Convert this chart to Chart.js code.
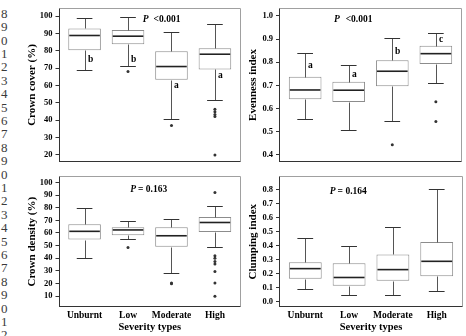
<!DOCTYPE html>
<html><head><meta charset="utf-8">
<script src="https://cdn.jsdelivr.net/npm/chart.js@4.4.1/dist/chart.umd.min.js"></script>
<style>
html,body{margin:0;padding:0;background:#fff;}
body{width:466px;height:336px;position:relative;overflow:hidden;}
canvas{position:absolute;}
.ln{position:absolute;left:1px;width:10px;font:13px 'Liberation Serif',serif;color:#3a3a3a;line-height:13px;}
</style></head><body>
<div id="nums"></div>
<canvas id="c1" width="246" height="170" style="left:0;top:0"></canvas>
<canvas id="c2" width="220" height="170" style="left:246px;top:0"></canvas>
<canvas id="c3" width="246" height="168" style="left:0;top:168px"></canvas>
<canvas id="c4" width="220" height="168" style="left:246px;top:168px"></canvas>
<script>
const categories = ['Unburnt', 'Low', 'Moderate', 'High'];

// Crown cover (%)
const coverMin = [69, 71.3, 41, 51.5];
const coverQ1 = [80.4, 83.8, 63.4, 69.3];
const coverMed = [88.9, 88.5, 71, 78.1];
const coverQ3 = [93, 92, 79.8, 81.5];
const coverMax = [99, 99.6, 91.2, 95.5];
const coverOut = [[], [68.1], [37], [46.4, 44.9, 43.4, 42.2, 20]];
const coverLetters = ['b', 'b', 'a', 'a'];
const coverLetterAt = [75, 75, 60, 66];
const coverTicks = [20, 30, 40, 50, 60, 70, 80, 90, 100];

// Evenness index
const evenMin = [0.556, 0.507, 0.547, 0.709];
const evenQ1 = [0.640, 0.628, 0.696, 0.792];
const evenMed = [0.680, 0.679, 0.761, 0.837];
const evenQ3 = [0.737, 0.716, 0.809, 0.871];
const evenMax = [0.841, 0.787, 0.903, 0.925];
const evenOut = [[], [], [0.443], [0.629, 0.544]];
const evenLetters = ['a', 'a', 'b', 'c'];
const evenLetterAt = [0.787, 0.748, 0.844, 0.898];
const evenTicks = [0.4, 0.5, 0.6, 0.7, 0.8, 0.9, 1.0];

// Crown density (%)
const densMin = [40.5, 55, 28.7, 49.3];
const densQ1 = [54.8, 58.3, 49.2, 60.8];
const densMed = [61.3, 62.4, 57.8, 68.3];
const densQ3 = [67, 64.5, 64.5, 72.7];
const densMax = [80, 69.2, 71, 81.6];
const densOut = [[], [48.5], [20.5, 19.8], [92, 42, 40, 37.5, 35.5, 29.5, 20.5, 10]];
const densTicks = [10, 20, 30, 40, 50, 60, 70, 80, 90, 100];

// Clumping index
const clumpMin = [0.094, 0.047, 0.047, 0.075];
const clumpQ1 = [0.164, 0.115, 0.150, 0.182];
const clumpMed = [0.236, 0.173, 0.229, 0.288];
const clumpQ3 = [0.281, 0.274, 0.337, 0.426];
const clumpMax = [0.456, 0.395, 0.533, 0.802];
const clumpOut = [[], [], [], []];
const clumpTicks = [0.0, 0.1, 0.2, 0.3, 0.4, 0.5, 0.6, 0.7, 0.8];

const pValues = ['<0.001', '<0.001', '= 0.163', '= 0.164'];

const F = "'Liberation Serif', 'Times New Roman', serif";

// manuscript line numbers in the left margin
(function(){
  const box = document.getElementById('nums');
  for (let i = 0; i < 25; i++) {
    const d = document.createElement('div');
    d.className = 'ln';
    d.textContent = String((8 + i) % 10);
    d.style.top = (13.3 + 13.4 * i - 6.5) + 'px';
    box.appendChild(d);
  }
})();

function seg(ctx, x1, y1, x2, y2) {
  ctx.beginPath(); ctx.moveTo(x1, y1); ctx.lineTo(x2, y2); ctx.stroke();
}

const boxPlugin = {
  id: 'boxplot',
  afterDatasetsDraw(chart) {
    const s = chart.$spec, ctx = chart.ctx;
    const xs = chart.scales.x, ys = chart.scales.y;
    const Y = v => Math.round(ys.getPixelForValue(v)) + 0.5;
    ctx.save();
    for (let i = 0; i < categories.length; i++) {
      const cx = Math.round(xs.getPixelForValue(i + 1)) + 0.5;
      const cl = xs.getPixelForValue(i + 1 - 0.18), cr = xs.getPixelForValue(i + 1 + 0.18);
      const bl = xs.getPixelForValue(i + 1 - 0.375), br = xs.getPixelForValue(i + 1 + 0.375);
      ctx.lineWidth = 1;
      ctx.strokeStyle = '#555';
      seg(ctx, cx, Y(s.q3[i]), cx, Y(s.max[i]));
      seg(ctx, cx, Y(s.q1[i]), cx, Y(s.min[i]));
      ctx.strokeStyle = '#333';
      seg(ctx, cl, Y(s.max[i]), cr, Y(s.max[i]));
      seg(ctx, cl, Y(s.min[i]), cr, Y(s.min[i]));
      ctx.strokeStyle = '#222';
      ctx.lineWidth = 1.6;
      const my = ys.getPixelForValue(s.med[i]);
      seg(ctx, bl + 1, my, br - 1, my);
      if (s.letters) {
        ctx.fillStyle = '#000';
        ctx.font = 'bold 9.5px ' + F;
        ctx.textAlign = 'left';
        ctx.textBaseline = 'middle';
        ctx.fillText(s.letters[i], cx + 2.5, ys.getPixelForValue(s.letterAt[i]));
      }
    }
    // P value
    const px = xs.getPixelForValue(s.pAt[0]), py = ys.getPixelForValue(s.pAt[1]);
    ctx.fillStyle = '#000';
    ctx.textAlign = 'left';
    ctx.textBaseline = 'middle';
    ctx.font = 'italic bold 9.5px ' + F;
    ctx.fillText('P', px, py);
    const w = ctx.measureText('P').width;
    ctx.font = 'bold 9.5px ' + F;
    ctx.fillText(s.p, px + w + s.pGap, py);
    ctx.restore();
  },
  afterDraw(chart) {
    const a = chart.chartArea, ctx = chart.ctx;
    const l = Math.round(a.left) + 0.5, r = Math.round(a.right) - 0.5;
    const t = Math.round(a.top) + 0.5, b = Math.round(a.bottom) - 0.5;
    ctx.save();
    ctx.lineWidth = 1;
    ctx.strokeStyle = '#a0a0a0';
    seg(ctx, l, t, r, t);
    seg(ctx, r, t, r, b);
    ctx.strokeStyle = '#333';
    seg(ctx, l, t, l, b + 0.5);
    seg(ctx, l - 0.5, b, r, b);
    ctx.restore();
  }
};

function buildPanel(id, spec) {
  const boxData = categories.map((c, i) => ({x: i + 1, y: [spec.q1[i], spec.q3[i]]}));
  const outData = [];
  spec.out.forEach((arr, i) => arr.forEach(v => outData.push({x: i + 1, y: v})));
  const chart = new Chart(document.getElementById(id), {
    type: 'bar',
    data: {datasets: [
      {type: 'bar', data: boxData, backgroundColor: '#ffffff', borderColor: '#8c8c8c', borderWidth: 1,
       borderSkipped: false, barPercentage: 0.75, categoryPercentage: 1, order: 2},
      {type: 'scatter', data: outData, pointRadius: 1.5, pointBackgroundColor: '#333',
       pointBorderWidth: 0, order: 1}
    ]},
    options: {
      responsive: false, animation: false, devicePixelRatio: 1,
      layout: {padding: spec.pad},
      plugins: {legend: {display: false}, tooltip: {enabled: false}},
      scales: {
        x: {
          type: 'linear', min: 0.4, max: 4.6, offset: false, display: spec.showX,
          grid: {display: false, drawTicks: false, tickLength: 0}, border: {display: false},
          afterBuildTicks: sc => { sc.ticks = categories.map((c, i) => ({value: i + 1})); },
          ticks: {autoSkip: false, maxRotation: 0, padding: 2.5, color: '#000',
                  font: {family: F, size: 9.5, weight: 'bold'},
                  callback: v => categories[v - 1]},
          title: {display: spec.showX, text: 'Severity types', color: '#000',
                  font: {family: F, size: 10.5, weight: 'bold'}, padding: {top: 0, bottom: 2}},
          afterFit: sc => { sc.height = spec.xh; }
        },
        y: {
          min: spec.ymin, max: spec.ymax,
          afterBuildTicks: sc => { sc.ticks = spec.ticks.map(v => ({value: v})); },
          grid: {display: true, drawOnChartArea: false, drawTicks: true, tickLength: 3, tickColor: '#333'},
          border: {display: false},
          ticks: {padding: 3, color: '#000', font: {family: F, size: 8.5, weight: 'bold'},
                  callback: v => spec.dec ? Number(v).toFixed(spec.dec) : String(v)},
          title: {display: true, text: spec.title, color: '#000',
                  font: {family: F, size: 11, weight: 'bold'}, padding: {top: spec.tpad, bottom: 0}},
          afterFit: sc => { sc.width = spec.yw; }
        }
      }
    },
    plugins: [boxPlugin]
  });
  return chart;
}

const panels = [
  ['c1', {q1: coverQ1, q3: coverQ3, med: coverMed, min: coverMin, max: coverMax, out: coverOut,
          letters: coverLetters, letterAt: coverLetterAt, ticks: coverTicks, dec: 0,
          ymin: 16, ymax: 104.7, title: 'Crown cover (%)', p: pValues[0], pAt: [2.34, 98], pGap: 5,
          pad: {left: 0, top: 6.5, right: 5, bottom: 7}, yw: 58.5, xh: 0, showX: false, tpad: 25.4}],
  ['c2', {q1: evenQ1, q3: evenQ3, med: evenMed, min: evenMin, max: evenMax, out: evenOut,
          letters: evenLetters, letterAt: evenLetterAt, ticks: evenTicks, dec: 1,
          ymin: 0.369, ymax: 1.034, title: 'Evenness index', p: pValues[1], pAt: [1.66, 0.986], pGap: 6,
          pad: {left: 0, top: 6.5, right: 3, bottom: 7}, yw: 33, xh: 0, showX: false, tpad: 0.4}],
  ['c3', {q1: densQ1, q3: densQ3, med: densMed, min: densMin, max: densMax, out: densOut,
          letters: null, ticks: densTicks, dec: 0,
          ymin: 1.2, ymax: 105, title: 'Crown density (%)', p: pValues[2], pAt: [2.05, 94.5], pGap: 2,
          pad: {left: 0, top: 6.5, right: 5, bottom: 0}, yw: 58.5, xh: 28.7, showX: true, tpad: 25.4}],
  ['c4', {q1: clumpQ1, q3: clumpQ3, med: clumpMed, min: clumpMin, max: clumpMax, out: clumpOut,
          letters: null, ticks: clumpTicks, dec: 1,
          ymin: -0.039, ymax: 0.894, title: 'Clumping index', p: pValues[3], pAt: [1.56, 0.784], pGap: 2,
          pad: {left: 0, top: 6.5, right: 3, bottom: 0}, yw: 33, xh: 28.7, showX: true, tpad: 0.4}]
];

panels.forEach(([id, spec]) => {
  Chart.register({id: 'spec_' + id, beforeInit(chart) { if (chart.canvas.id === id) chart.$spec = spec; }});
});
panels.forEach(([id, spec]) => buildPanel(id, spec));
</script>
</body></html>
